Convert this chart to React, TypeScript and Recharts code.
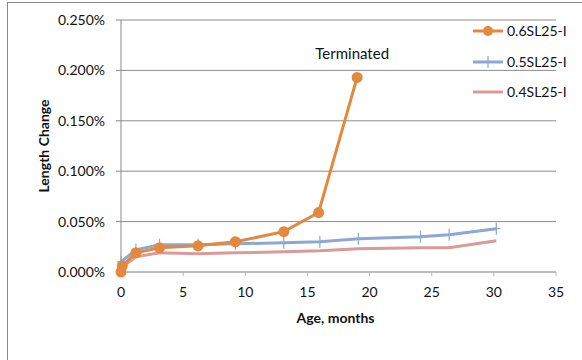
import {
  LineChart,
  Line,
  XAxis,
  YAxis,
  CartesianGrid,
  Legend,
  ReferenceDot,
  Label,
} from "recharts";

// age in months / length change in %
const AGE_06 = [0, 0.1, 1.2, 3.1, 6.2, 9.2, 13.1, 15.9, 19.0];
const LEN_06 = [0.0, 0.006, 0.019, 0.024, 0.026, 0.03, 0.04, 0.059, 0.193];

const AGE_05 = [0, 1.2, 3.1, 6.2, 9.2, 13.1, 16.0, 19.1, 24.1, 26.4, 30.2];
const LEN_05 = [0.01, 0.022, 0.027, 0.027, 0.028, 0.029, 0.03, 0.033, 0.035, 0.037, 0.043];

const AGE_04 = [0, 1.2, 3.1, 6.2, 9.2, 13.1, 16.0, 19.1, 24.1, 26.4, 30.2];
const LEN_04 = [0.004, 0.015, 0.019, 0.018, 0.019, 0.02, 0.021, 0.023, 0.024, 0.024, 0.031];

const X_TICKS = [0, 5, 10, 15, 20, 25, 30, 35];
const Y_TICKS = [0, 0.05, 0.1, 0.15, 0.2, 0.25];

const FONT = "Lato, 'Open Sans', sans-serif";

const ORANGE = "#E3883C";
const BLUE = "#8DA8D3";
const PINK = "#D99A98";

const zip = (ages: number[], vals: number[]) => ages.map((t, i) => ({ t, v: vals[i] }));

const SERIES = [
  { name: "0.6SL25-I", color: ORANGE, data: zip(AGE_06, LEN_06), marker: "circle" },
  { name: "0.5SL25-I", color: BLUE, data: zip(AGE_05, LEN_05), marker: "plus" },
  { name: "0.4SL25-I", color: PINK, data: zip(AGE_04, LEN_04), marker: "none" },
];

const PlusDot = (props: any) => {
  const { cx, cy, index } = props;
  if (cx == null || cy == null) return null;
  return (
    <path
      key={`p-${index}`}
      d={`M${cx},${cy - 6}L${cx},${cy + 6}M${cx - 4},${cy}L${cx + 4},${cy}`}
      stroke={BLUE}
      strokeWidth={1.2}
      fill="none"
    />
  );
};

const renderLegend = () => (
  <div style={{ fontFamily: FONT, fontSize: 14, color: "#111" }}>
    {SERIES.map((s) => (
      <div key={s.name} style={{ display: "flex", alignItems: "center", height: 30.5 }}>
        <svg width={35} height={14} style={{ display: "block" }}>
          <line x1={1} y1={7} x2={31} y2={7} stroke={s.color} strokeWidth={3} />
          {s.marker === "circle" && <circle cx={16} cy={7} r={5} fill={s.color} />}
          {s.marker === "plus" && (
            <line x1={16} y1={1} x2={16} y2={13} stroke={s.color} strokeWidth={1.2} />
          )}
        </svg>
        <span style={{ lineHeight: "14px" }}>{s.name}</span>
      </div>
    ))}
  </div>
);

export default function App() {
  return (
    <div
      style={{
        position: "fixed",
        left: 0,
        top: 0,
        width: 582,
        height: 360,
        overflow: "hidden",
        background: "#fff",
      }}
    >
      <div
        style={{
          position: "absolute",
          left: 7,
          top: 2,
          width: 620,
          height: 420,
          border: "1px solid #8a8a8a",
        }}
      />
      <div style={{ position: "absolute", left: 0, top: 0 }}>
        <LineChart
          width={582}
          height={360}
          margin={{ top: 20, right: 26, bottom: 0, left: 0 }}
          style={{ fontFamily: FONT }}
        >
          <CartesianGrid horizontal vertical={false} stroke="#8c8c8c" strokeWidth={1} />
          <XAxis
            dataKey="t"
            type="number"
            domain={[0, 35]}
            ticks={X_TICKS}
            height={88}
            tickSize={4}
            tickMargin={11}
            stroke="#b5b5b5"
            tick={{ fill: "#111", fontSize: 14, fontFamily: FONT }}
            allowDuplicatedCategory={false}
          >
            <Label
              value="Age, months"
              position="insideTop"
              offset={41}
              dx={-3}
              style={{ fontFamily: FONT, fontSize: 14, fontWeight: 700, fill: "#111" }}
            />
          </XAxis>
          <YAxis
            type="number"
            domain={[0, 0.25]}
            ticks={Y_TICKS}
            width={121}
            tickSize={5}
            tickMargin={11}
            stroke="#888"
            tickFormatter={(v: number) => `${v.toFixed(3)}%`}
            tick={{ fill: "#111", fontSize: 14, fontFamily: FONT }}
          >
            <Label
              value="Length Change"
              position="center"
              angle={-90}
              dx={-16.5}
              style={{ fontFamily: FONT, fontSize: 14, fontWeight: 700, fill: "#111" }}
            />
          </YAxis>
          <Legend
            layout="vertical"
            align="center"
            verticalAlign="middle"
            content={renderLegend}
            wrapperStyle={{ left: 472, top: 16, width: 110 }}
          />
          <Line
            data={SERIES[2].data}
            dataKey="v"
            name={SERIES[2].name}
            type="linear"
            stroke={PINK}
            strokeWidth={3}
            dot={false}
            activeDot={false}
            isAnimationActive={false}
          />
          <Line
            data={SERIES[1].data}
            dataKey="v"
            name={SERIES[1].name}
            type="linear"
            stroke={BLUE}
            strokeWidth={3}
            dot={PlusDot}
            activeDot={false}
            isAnimationActive={false}
          />
          <Line
            data={SERIES[0].data}
            dataKey="v"
            name={SERIES[0].name}
            type="linear"
            stroke={ORANGE}
            strokeWidth={3}
            dot={{ r: 5.5, fill: ORANGE, stroke: ORANGE, strokeWidth: 0 }}
            activeDot={false}
            isAnimationActive={false}
          />
          <ReferenceDot
            x={18.6}
            y={0.2165}
            r={0}
            fill="none"
            stroke="none"
            ifOverflow="visible"
          >
            <Label
              value="Terminated"
              position="center"
              style={{ fontFamily: FONT, fontSize: 15, fill: "#111" }}
            />
          </ReferenceDot>
        </LineChart>
      </div>
    </div>
  );
}
